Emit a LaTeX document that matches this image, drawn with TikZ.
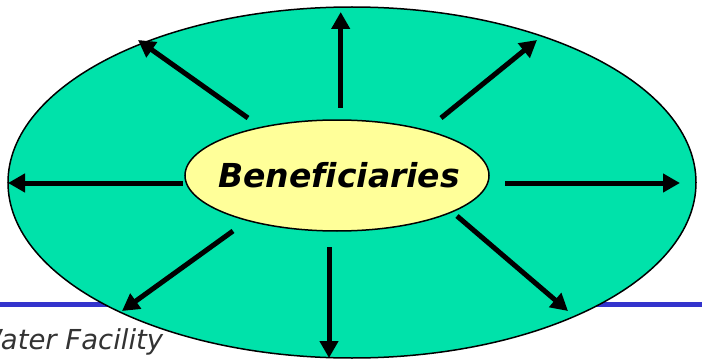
\documentclass[tikz,border=0pt]{standalone}
\usepackage{fontspec}
\setmainfont{DejaVu Sans}
\usetikzlibrary{shapes.geometric,arrows.meta}
\definecolor{outergreen}{RGB}{0,226,170}
\definecolor{inneryellow}{RGB}{255,255,153}
\definecolor{barblue}{RGB}{51,51,204}
\definecolor{footgray}{RGB}{51,51,51}
\tikzset{
  bigarrow/.style={line width=5pt,-{Triangle[length=17pt,width=18pt]}},
  ovalnode/.style={ellipse,draw=black,line width=1.5pt,inner sep=0pt},
}
\begin{document}
\begin{tikzpicture}[x=1pt,y=-1pt]
\useasboundingbox (0,0) rectangle (702,361);
% footer bar and text
\coordinate (barL) at (0,304.5);
\coordinate (barR) at (702,304.5);
\draw[barblue,line width=5.5pt] (barL) -- (barR);
\node[anchor=base west,inner sep=0pt,text=footgray,font={\fontsize{27.5}{30}\selectfont\itshape}] (footer) at (-25,349) {Water Facility};
% ellipses
\node[ovalnode,fill=outergreen,minimum width=688pt,minimum height=351pt] (outer) at (352,182.5) {};
\node[ovalnode,fill=inneryellow,minimum width=304pt,minimum height=111pt] (inner) at (337,175.5) {};
\node[inner sep=0pt,font={\fontsize{33}{36}\selectfont\bfseries\itshape}] (innertext) at (339,175.5) {\addfontfeatures{Ligatures=NoCommon}Beneficiaries};
% arrow ends
\coordinate (s1) at (340.7,107.7); \coordinate (t1) at (340.7,12);
\coordinate (s2) at (248,118);     \coordinate (t2) at (138,40);
\coordinate (s3) at (441,118);     \coordinate (t3) at (537,40);
\coordinate (s4) at (183,183);     \coordinate (t4) at (8,183);
\coordinate (s5) at (505,183);     \coordinate (t5) at (680,183);
\coordinate (s6) at (457,216);     \coordinate (t6) at (568,311);
\coordinate (s7) at (329,247);     \coordinate (t7) at (329,358);
\coordinate (s8) at (233,231);     \coordinate (t8) at (122,311);
\foreach \i in {1,...,8} {\draw[bigarrow] (s\i) -- (t\i);}
\end{tikzpicture}
\end{document}
